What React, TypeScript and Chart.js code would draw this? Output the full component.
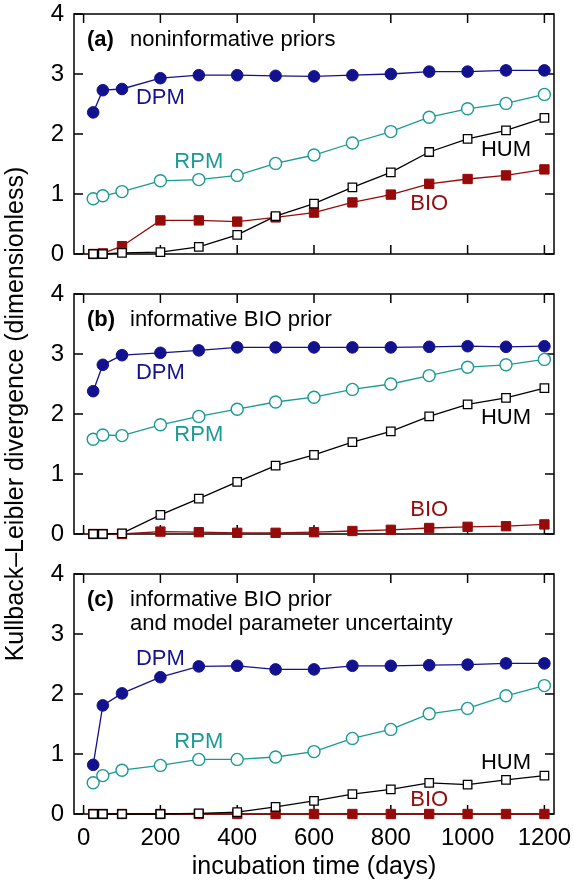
import React, { useEffect, useRef } from 'react';
import { Chart, registerables } from 'chart.js';

Chart.register(...registerables);

// ---------------- data ----------------
const DAYS = [25, 50, 100, 200, 300, 400, 500, 600, 700, 800, 900, 1000, 1100, 1200];

const A_DPM = [2.36, 2.73, 2.75, 2.93, 2.98, 2.98, 2.97, 2.96, 2.98, 3.0, 3.04, 3.04, 3.06, 3.06];
const A_RPM = [0.92, 0.97, 1.04, 1.22, 1.24, 1.31, 1.51, 1.65, 1.85, 2.04, 2.28, 2.42, 2.51, 2.66];
const A_HUM = [0.0, 0.0, 0.02, 0.03, 0.12, 0.32, 0.63, 0.84, 1.11, 1.36, 1.7, 1.92, 2.06, 2.27];
const A_BIO = [0.0, 0.01, 0.13, 0.56, 0.56, 0.54, 0.61, 0.69, 0.86, 0.99, 1.17, 1.25, 1.31, 1.41];

const B_DPM = [2.38, 2.82, 2.98, 3.02, 3.06, 3.11, 3.11, 3.11, 3.11, 3.11, 3.12, 3.13, 3.12, 3.13];
const B_RPM = [1.58, 1.65, 1.64, 1.82, 1.96, 2.08, 2.2, 2.28, 2.41, 2.5, 2.64, 2.78, 2.82, 2.91];
const B_HUM = [0.0, 0.0, 0.01, 0.32, 0.59, 0.87, 1.14, 1.32, 1.53, 1.71, 1.96, 2.16, 2.27, 2.43];
const B_BIO = [0.0, 0.0, 0.0, 0.04, 0.03, 0.02, 0.02, 0.03, 0.05, 0.07, 0.1, 0.12, 0.13, 0.16];

const C_DPM = [0.82, 1.81, 2.01, 2.28, 2.46, 2.47, 2.41, 2.41, 2.47, 2.47, 2.48, 2.49, 2.51, 2.51];
const C_RPM = [0.52, 0.64, 0.73, 0.81, 0.91, 0.91, 0.95, 1.04, 1.26, 1.41, 1.67, 1.76, 1.97, 2.14];
const C_HUM = [0.0, 0.0, 0.0, 0.0, 0.01, 0.03, 0.12, 0.22, 0.33, 0.41, 0.52, 0.49, 0.57, 0.64];
const C_BIO = [0, 0, 0, 0, 0, 0, 0, 0, 0, 0, 0, 0, 0, 0];

const SERIES_NAMES = ['DPM', 'RPM', 'HUM', 'BIO'];
const X_TICKS = [0, 200, 400, 600, 800, 1000, 1200];
const Y_TICKS = [0, 1, 2, 3, 4];

const PANEL_TAGS = ['(a)', '(b)', '(c)'];
const PANEL_TITLES = [
  ['noninformative priors'],
  ['informative BIO prior'],
  ['informative BIO prior', 'and model parameter uncertainty'],
];

// series label anchors, in data coordinates [day, divergence], order DPM, RPM, HUM, BIO
const A_LABELS = [[200, 2.6], [300, 1.53], [1100, 1.73], [900, 0.83]];
const B_LABELS = [[200, 2.68], [300, 1.65], [1100, 1.93], [900, 0.4]];
const C_LABELS = [[200, 2.58], [300, 1.2], [1100, 0.85], [900, 0.23]];

const X_TITLE = 'incubation time (days)';
const Y_TITLE = 'Kullback\u2013Leibler divergence (dimensionless)';

// ---------------- styles ----------------
const FONT = "'Liberation Sans', Arial, Helvetica, sans-serif";
const W = 574;
const H = 882;
const COLORS = ['#12128e', '#1a9a96', '#000000', '#960a0a'];
const PANEL_TOPS = [14, 294, 574];
const PANEL_H = 240;
const AXIS_W = 74;
const PAD_RIGHT = 20;

const PANELS = [
  { series: [A_DPM, A_RPM, A_HUM, A_BIO], labels: A_LABELS },
  { series: [B_DPM, B_RPM, B_HUM, B_BIO], labels: B_LABELS },
  { series: [C_DPM, C_RPM, C_HUM, C_BIO], labels: C_LABELS },
];

function makeDataset(name: string, values: number[], i: number) {
  const color = COLORS[i];
  const base: any = {
    label: name,
    data: DAYS.map((d, k) => ({ x: d, y: values[k] })),
    borderColor: color,
    borderWidth: 1.3,
    pointBorderColor: color,
    clip: false,
  };
  if (name === 'DPM') {
    return { ...base, pointStyle: 'circle', pointRadius: 5.8, pointBorderWidth: 1, pointBackgroundColor: color };
  }
  if (name === 'RPM') {
    return { ...base, pointStyle: 'circle', pointRadius: 6, pointBorderWidth: 1.4, pointBackgroundColor: '#ffffff' };
  }
  if (name === 'HUM') {
    return { ...base, pointStyle: 'rect', pointRadius: 6, pointBorderWidth: 1.3, pointBackgroundColor: '#ffffff' };
  }
  return { ...base, pointStyle: 'rect', pointRadius: 6.6, pointBorderWidth: 1, pointBackgroundColor: color };
}

// invisible outer tick marks used only as spacing between axis and labels
const spacerGrid = {
  display: true,
  drawOnChartArea: false,
  drawTicks: true,
  tickLength: 10,
  tickColor: 'rgba(0,0,0,0)',
};

function Panel({ index }: { index: number }) {
  const ref = useRef<HTMLCanvasElement | null>(null);
  useEffect(() => {
    const canvas = ref.current;
    if (!canvas) return;
    const panel = PANELS[index];
    const isLast = index === PANELS.length - 1;

    const framePlugin = {
      id: 'frame' + index,
      beforeDatasetsDraw(chart: any) {
        const { ctx, chartArea: a, scales } = chart;
        ctx.save();
        ctx.strokeStyle = '#000';
        ctx.lineWidth = 1.5;
        ctx.strokeRect(a.left, a.top, a.right - a.left, a.bottom - a.top);
        ctx.beginPath();
        const tl = 9;
        X_TICKS.forEach((v) => {
          const x = scales.x.getPixelForValue(v);
          ctx.moveTo(x, a.bottom);
          ctx.lineTo(x, a.bottom - tl);
          ctx.moveTo(x, a.top);
          ctx.lineTo(x, a.top + tl);
        });
        Y_TICKS.forEach((v) => {
          const y = scales.y.getPixelForValue(v);
          ctx.moveTo(a.left, y);
          ctx.lineTo(a.left + tl, y);
          ctx.moveTo(a.right, y);
          ctx.lineTo(a.right - tl, y);
        });
        ctx.stroke();
        ctx.restore();
      },
      afterDraw(chart: any) {
        const { ctx, chartArea: a, scales } = chart;
        ctx.save();
        // panel tag and title
        ctx.textBaseline = 'alphabetic';
        ctx.textAlign = 'left';
        ctx.fillStyle = '#000';
        ctx.font = `bold 22px ${FONT}`;
        ctx.fillText(PANEL_TAGS[index], a.left + 13, a.top + 32);
        ctx.font = `22px ${FONT}`;
        PANEL_TITLES[index].forEach((line, k) => {
          ctx.fillText(line, a.left + 56, a.top + 32 + k * 24);
        });
        // series labels
        ctx.textAlign = 'center';
        ctx.textBaseline = 'middle';
        panel.labels.forEach((p, k) => {
          ctx.fillStyle = COLORS[k];
          ctx.fillText(SERIES_NAMES[k], scales.x.getPixelForValue(p[0]), scales.y.getPixelForValue(p[1]));
        });
        // shared y title (drawn once)
        if (isLast) {
          ctx.save();
          ctx.fillStyle = '#000';
          ctx.font = `25px ${FONT}`;
          ctx.translate(16.5, (PANEL_TOPS[0] + PANEL_TOPS[2] + PANEL_H) / 2);
          ctx.rotate(-Math.PI / 2);
          ctx.textAlign = 'center';
          ctx.textBaseline = 'middle';
          ctx.fillText(Y_TITLE, 0, 0);
          ctx.restore();
        }
        ctx.restore();
      },
    };

    const top = PANEL_TOPS[index];
    const chart = new Chart(canvas, {
      type: 'line',
      data: {
        datasets: SERIES_NAMES.map((n, i) => makeDataset(n, panel.series[i], i)),
      },
      options: {
        responsive: false,
        animation: false,
        devicePixelRatio: 1,
        events: [],
        layout: {
          autoPadding: false,
          padding: {
            left: 0,
            right: PAD_RIGHT,
            top: top,
            bottom: isLast ? 0 : H - (top + PANEL_H),
          },
        },
        plugins: {
          legend: { display: false },
          tooltip: { enabled: false },
        },
        scales: {
          x: {
            type: 'linear',
            min: -25,
            max: 1225,
            display: isLast,
            afterBuildTicks: (s: any) => {
              s.ticks = X_TICKS.map((v) => ({ value: v }));
            },
            afterFit: (s: any) => {
              s.height = isLast ? H - (PANEL_TOPS[2] + PANEL_H) : 0;
            },
            grid: spacerGrid,
            border: { display: false },
            ticks: {
              color: '#000',
              font: { family: FONT, size: 24 },
              padding: 0,
              maxRotation: 0,
              autoSkip: false,
              callback: (v: any) => String(v),
            },
            title: {
              display: true,
              text: X_TITLE,
              color: '#000',
              font: { family: FONT, size: 25 },
              padding: 0,
            },
          },
          y: {
            type: 'linear',
            min: 0,
            max: 4,
            afterBuildTicks: (s: any) => {
              s.ticks = Y_TICKS.map((v) => ({ value: v }));
            },
            afterFit: (s: any) => {
              s.width = AXIS_W;
            },
            grid: spacerGrid,
            border: { display: false },
            ticks: {
              color: '#000',
              font: { family: FONT, size: 24, lineHeight: 1 },
              padding: 0,
              callback: (v: any) => String(v),
            },
          },
        },
      } as any,
      plugins: [framePlugin],
    });
    return () => chart.destroy();
  }, [index]);

  return (
    <canvas
      ref={ref}
      width={W}
      height={H}
      style={{ position: 'absolute', left: 0, top: 0, width: W, height: H }}
    />
  );
}

export default function App() {
  return (
    <div
      style={{
        position: 'absolute',
        left: 0,
        top: 0,
        width: W,
        height: H,
        background: '#ffffff',
      }}
    >
      {PANELS.map((_, i) => (
        <Panel key={i} index={i} />
      ))}
    </div>
  );
}
